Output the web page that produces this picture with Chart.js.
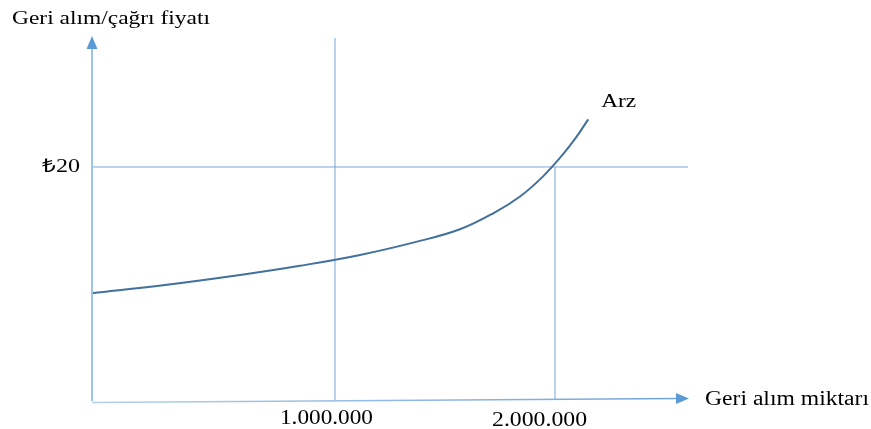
<!DOCTYPE html>
<html>
<head>
<meta charset="utf-8">
<script src="https://cdn.jsdelivr.net/npm/chart.js@4"></script>
<style>
  html, body { margin: 0; padding: 0; background: #ffffff; }
  #wrap { width: 871px; height: 429px; position: relative; }
</style>
</head>
<body>
<div id="wrap"><canvas id="c" width="871" height="429"></canvas></div>
<script>
// ---- data (quantities in millions of shares, price in TL) ----
const quantity = [-0.105, 0.227, 0.568, 0.841, 1.114, 1.364, 1.568, 1.727, 1.841, 1.941, 2.032, 2.095, 2.151];
const price    = [9.16, 9.87, 10.73, 11.52, 12.45, 13.55, 14.65, 16.11, 17.47, 19.11, 21.00, 22.52, 24.09];
const seriesLabel = 'Arz';
const xTickValues = [1.0, 2.0];
const xTickLabels = ['1.000.000', '2.000.000'];
const priceLevel = 20;
const priceLabel = '₺20';
const yTitle = 'Geri alım/çağrı fiyatı';
const xTitle = 'Geri alım miktarı';
const xRange = [-0.1045, 2.6045];
const yRange = [0, 31.07];

const curveColor = '#41719c';
const refColor = '#7aa6d8';

const curvePts = quantity.map((q, i) => ({ x: q, y: price[i] }));

function fitText(ctx, text, x, y, size, width) {
  ctx.save();
  ctx.font = size + 'px "Liberation Serif", "Times New Roman", serif';
  ctx.textBaseline = 'alphabetic';
  ctx.textAlign = 'left';
  ctx.fillStyle = '#000000';
  const w = ctx.measureText(text).width;
  ctx.translate(x, y);
  ctx.scale(width / w, 1);
  ctx.fillText(text, 0, 0);
  ctx.restore();
}

const decor = {
  id: 'decor',
  afterDatasetsDraw(chart) {
    const ctx = chart.ctx;
    const xs = chart.scales.x, ys = chart.scales.y;
    const x0 = xs.getPixelForValue(xRange[0]);
    const xEnd = xs.getPixelForValue(xRange[1]);
    const yBase = ys.getPixelForValue(0);
    const yTop = ys.getPixelForValue(yRange[1]);
    ctx.save();
    // y axis
    ctx.strokeStyle = '#9dc3e6';
    ctx.lineWidth = 2;
    ctx.beginPath();
    ctx.moveTo(x0, yBase + 1);
    ctx.lineTo(x0, yTop + 10);
    ctx.stroke();
    ctx.fillStyle = '#5b9bd5';
    ctx.beginPath();
    ctx.moveTo(x0, yTop - 2);
    ctx.lineTo(x0 - 5.5, yTop + 11);
    ctx.lineTo(x0 + 5.5, yTop + 11);
    ctx.closePath();
    ctx.fill();
    // x axis (slightly tilted as in the original drawing)
    const g = ctx.createLinearGradient(x0, 0, xEnd, 0);
    g.addColorStop(0, '#b4d0ec');
    g.addColorStop(1, '#6fa3da');
    ctx.strokeStyle = g;
    ctx.lineWidth = 1.6;
    ctx.beginPath();
    ctx.moveTo(x0, yBase + 2.5);
    ctx.lineTo(xEnd - 10, yBase - 1.5);
    ctx.stroke();
    ctx.fillStyle = '#5b9bd5';
    ctx.beginPath();
    ctx.moveTo(xEnd + 1, yBase - 1.5);
    ctx.lineTo(xEnd - 12, yBase - 7);
    ctx.lineTo(xEnd - 12, yBase + 4);
    ctx.closePath();
    ctx.fill();
    ctx.restore();

    // texts
    fitText(ctx, yTitle, 12, 24, 18, 198);
    const yP = ys.getPixelForValue(priceLevel);
    fitText(ctx, priceLabel, 42, yP + 5, 19, 38);
    const lastX = xs.getPixelForValue(quantity[quantity.length - 1]);
    const lastY = ys.getPixelForValue(price[price.length - 1]);
    fitText(ctx, seriesLabel, lastX + 13, lastY - 12, 19, 35);
    const t1 = xs.getPixelForValue(xTickValues[0]);
    const t2 = xs.getPixelForValue(xTickValues[1]);
    fitText(ctx, xTickLabels[0], t1 - 55, 424, 20, 93);
    fitText(ctx, xTickLabels[1], t2 - 63, 426, 20, 95);
    fitText(ctx, xTitle, xEnd + 17, yBase + 5, 20, 164);
  }
};

new Chart(document.getElementById('c'), {
  type: 'line',
  data: {
    datasets: [
      {
        label: seriesLabel,
        data: curvePts,
        borderColor: curveColor,
        borderWidth: 2,
        pointRadius: 0,
        tension: 0.4,
        fill: false,
        clip: false,
        order: 0
      },
      {
        label: 'ref1',
        data: [{ x: xTickValues[0], y: yRange[0] }, { x: xTickValues[0], y: yRange[1] }],
        borderColor: refColor, borderWidth: 1, pointRadius: 0, clip: false, order: 1
      },
      {
        label: 'ref2',
        data: [{ x: xTickValues[1], y: yRange[0] }, { x: xTickValues[1], y: priceLevel }],
        borderColor: refColor, borderWidth: 1, pointRadius: 0, clip: false, order: 1
      },
      {
        label: 'ref3',
        data: [{ x: xRange[0], y: priceLevel }, { x: xRange[1], y: priceLevel }],
        borderColor: refColor, borderWidth: 1, pointRadius: 0, clip: false, order: 1
      }
    ]
  },
  options: {
    responsive: false,
    animation: false,
    devicePixelRatio: 1,
    layout: { padding: { left: 92, right: 183, top: 38, bottom: 29 } },
    plugins: { legend: { display: false }, tooltip: { enabled: false } },
    scales: {
      x: { type: 'linear', min: xRange[0], max: xRange[1], display: false },
      y: { type: 'linear', min: yRange[0], max: yRange[1], display: false }
    }
  },
  plugins: [decor]
});
</script>
</body>
</html>
